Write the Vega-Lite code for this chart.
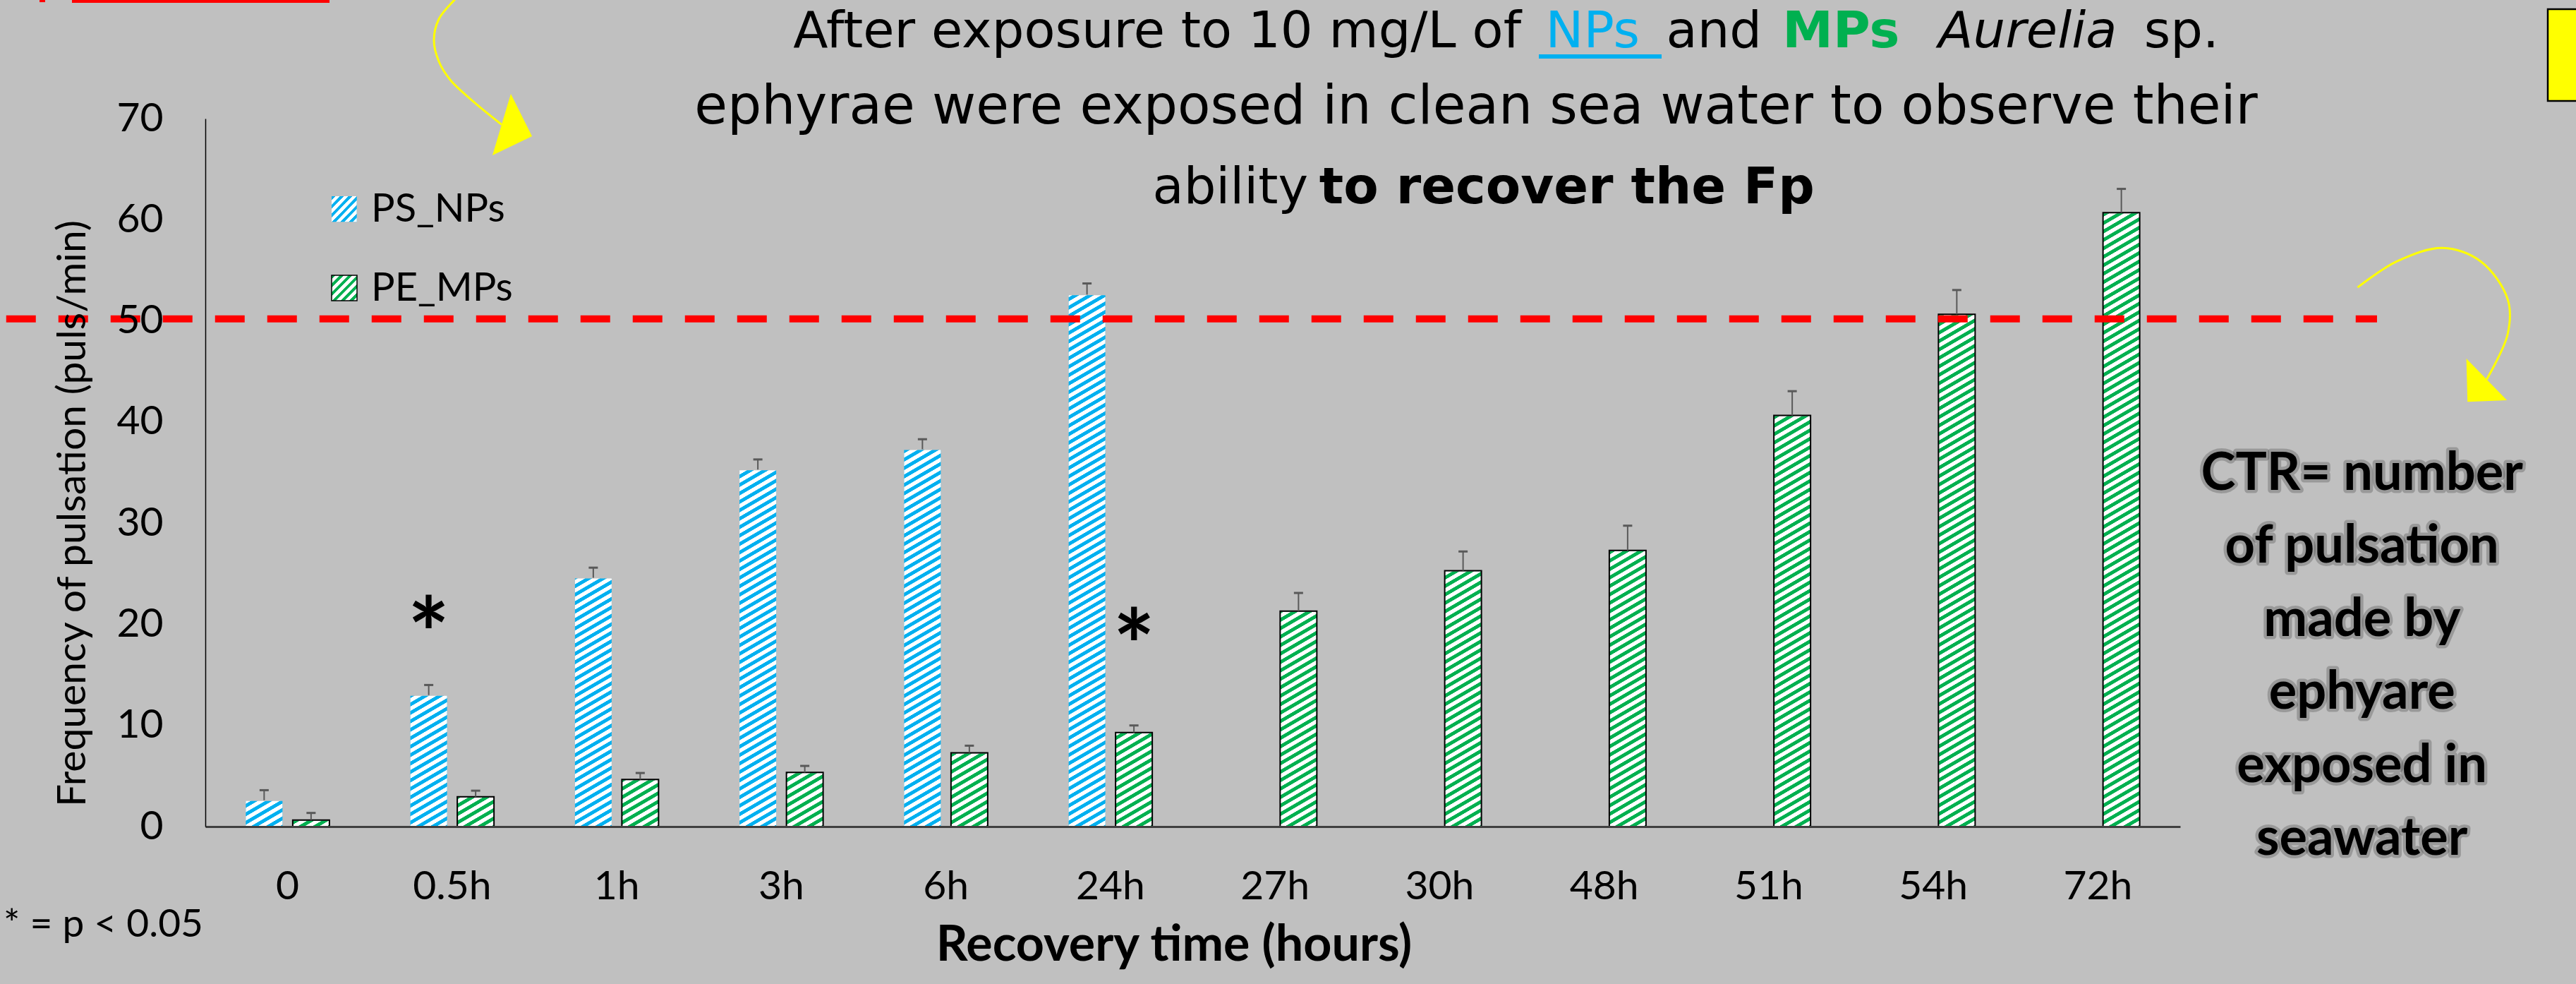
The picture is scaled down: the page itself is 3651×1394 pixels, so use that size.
{
"$schema": "https://vega.github.io/schema/vega-lite/v6.json",
"width": 2799,
"height": 1003,
"autosize": "none",
"padding": {"left": 291, "top": 168, "right": 561, "bottom": 223},
"background": "#C0C0C0",
"config": {"view": {"stroke": null}, "font": "Lato", "axis": {"grid": false}},
"datasets": {
 "bars": [
  {"time": "0", "series": "PS_NPs", "value": 2.6, "hi": 3.6},
  {"time": "0.5h", "series": "PS_NPs", "value": 13.0, "hi": 14.0},
  {"time": "1h", "series": "PS_NPs", "value": 24.6, "hi": 25.6},
  {"time": "3h", "series": "PS_NPs", "value": 35.3, "hi": 36.3},
  {"time": "6h", "series": "PS_NPs", "value": 37.3, "hi": 38.3},
  {"time": "24h", "series": "PS_NPs", "value": 52.6, "hi": 53.7},
  {"time": "0", "series": "PE_MPs", "value": 0.65, "hi": 1.35},
  {"time": "0.5h", "series": "PE_MPs", "value": 2.95, "hi": 3.55},
  {"time": "1h", "series": "PE_MPs", "value": 4.65, "hi": 5.3},
  {"time": "3h", "series": "PE_MPs", "value": 5.35, "hi": 6.0},
  {"time": "6h", "series": "PE_MPs", "value": 7.3, "hi": 8.0},
  {"time": "24h", "series": "PE_MPs", "value": 9.3, "hi": 10.0},
  {"time": "27h", "series": "PE_MPs", "value": 21.3, "hi": 23.1},
  {"time": "30h", "series": "PE_MPs", "value": 25.3, "hi": 27.2},
  {"time": "48h", "series": "PE_MPs", "value": 27.3, "hi": 29.75},
  {"time": "51h", "series": "PE_MPs", "value": 40.65, "hi": 43.05},
  {"time": "54h", "series": "PE_MPs", "value": 50.65, "hi": 53.05},
  {"time": "72h", "series": "PE_MPs", "value": 60.7, "hi": 63.05}
 ],
 "arrows": [
  {"arrow": 1, "i": 0, "u": 1.582, "v": 82.91},
  {"arrow": 1, "i": 1, "u": 1.5134, "v": 81.73},
  {"arrow": 1, "i": 2, "u": 1.4191, "v": 79.84},
  {"arrow": 1, "i": 3, "u": 1.3891, "v": 77.75},
  {"arrow": 1, "i": 4, "u": 1.4191, "v": 75.65},
  {"arrow": 1, "i": 5, "u": 1.4877, "v": 73.84},
  {"arrow": 1, "i": 6, "u": 1.6249, "v": 71.74},
  {"arrow": 1, "i": 7, "u": 1.8006, "v": 69.41},
  {"arrow": 2, "i": 0, "u": 13.0783, "v": 53.31},
  {"arrow": 2, "i": 1, "u": 13.3153, "v": 55.87},
  {"arrow": 2, "i": 2, "u": 13.5949, "v": 57.21},
  {"arrow": 2, "i": 3, "u": 13.8272, "v": 55.87},
  {"arrow": 2, "i": 4, "u": 13.9901, "v": 52.13},
  {"arrow": 2, "i": 5, "u": 13.9901, "v": 48.70},
  {"arrow": 2, "i": 6, "u": 13.8624, "v": 44.21}
 ]
},
"layer": [
 {
  "data": {"name": "bars"},
  "encoding": {
   "x": {"field": "time", "type": "nominal",
    "sort": ["0", "0.5h", "1h", "3h", "6h", "24h", "27h", "30h", "48h", "51h", "54h", "72h"],
    "scale": {"paddingInner": 0.49196, "paddingOuter": 0.24598},
    "axis": {"title": "Recovery time (hours)", "labelAngle": 0, "labelFontSize": 57, "labelColor": "#000", "labelPadding": 102, "labelBaseline": "alphabetic", "ticks": false, "tickSize": 0, "domainColor": "#404040", "domainWidth": 3, "titleFontSize": 70, "titleFontWeight": "bold", "titleColor": "#000", "titleX": 1372.5, "titleY": 189, "titleBaseline": "alphabetic", "titleAlign": "center", "zindex": 1}},
   "xOffset": {"field": "series", "type": "nominal", "scale": {"domain": ["PS_NPs", "PE_MPs"], "paddingInner": 0.218, "paddingOuter": 0}}
  },
  "layer": [
   {"mark": {"type": "bar"},
    "encoding": {
     "y": {"datum": 64, "type": "quantitative", "scale": {"domain": [0, 70], "nice": false, "zero": true},
      "axis": {"title": "Frequency of pulsation (puls/min)", "values": [0, 10, 20, 30, 40, 50, 60, 70], "ticks": false, "tickSize": 0, "labelFontSize": 57, "labelColor": "#000", "labelPadding": 60, "domainColor": "#000", "domainWidth": 1.5, "titleFontSize": 57, "titleFontWeight": "normal", "titleColor": "#000", "titleAngle": -90, "titleX": -171, "titleY": 559, "titleBaseline": "alphabetic", "titleAlign": "center", "zindex": 1}},
     "y2": {"datum": 0},
     "fill": {"field": "series", "type": "nominal", "scale": {"domain": ["PS_NPs", "PE_MPs"], "range": ["#00B0F0", "#00B050"]}, "legend": null}
    }},
   {"mark": {"type": "bar", "fill": {"gradient": "linear", "x1": 0, "y1": 0, "x2": 0.034277, "y2": 1.04218, "stops": [
{"offset":0,"color":"rgba(255,255,255,0)"},{"offset":0.0055,"color":"rgba(255,255,255,0)"},{"offset":0.006,"color":"#fff"},{"offset":0.012,"color":"#fff"},
{"offset":0.0125,"color":"rgba(255,255,255,0)"},{"offset":0.018,"color":"rgba(255,255,255,0)"},{"offset":0.0185,"color":"#fff"},{"offset":0.0245,"color":"#fff"},
{"offset":0.025,"color":"rgba(255,255,255,0)"},{"offset":0.0305,"color":"rgba(255,255,255,0)"},{"offset":0.031,"color":"#fff"},{"offset":0.037,"color":"#fff"},
{"offset":0.0375,"color":"rgba(255,255,255,0)"},{"offset":0.043,"color":"rgba(255,255,255,0)"},{"offset":0.0435,"color":"#fff"},{"offset":0.0495,"color":"#fff"},
{"offset":0.05,"color":"rgba(255,255,255,0)"},{"offset":0.0555,"color":"rgba(255,255,255,0)"},{"offset":0.056,"color":"#fff"},{"offset":0.062,"color":"#fff"},
{"offset":0.0625,"color":"rgba(255,255,255,0)"},{"offset":0.068,"color":"rgba(255,255,255,0)"},{"offset":0.0685,"color":"#fff"},{"offset":0.0745,"color":"#fff"},
{"offset":0.075,"color":"rgba(255,255,255,0)"},{"offset":0.0805,"color":"rgba(255,255,255,0)"},{"offset":0.081,"color":"#fff"},{"offset":0.087,"color":"#fff"},
{"offset":0.0875,"color":"rgba(255,255,255,0)"},{"offset":0.093,"color":"rgba(255,255,255,0)"},{"offset":0.0935,"color":"#fff"},{"offset":0.0995,"color":"#fff"},
{"offset":0.1,"color":"rgba(255,255,255,0)"},{"offset":0.1055,"color":"rgba(255,255,255,0)"},{"offset":0.106,"color":"#fff"},{"offset":0.112,"color":"#fff"},
{"offset":0.1125,"color":"rgba(255,255,255,0)"},{"offset":0.118,"color":"rgba(255,255,255,0)"},{"offset":0.1185,"color":"#fff"},{"offset":0.1245,"color":"#fff"},
{"offset":0.125,"color":"rgba(255,255,255,0)"},{"offset":0.1305,"color":"rgba(255,255,255,0)"},{"offset":0.131,"color":"#fff"},{"offset":0.137,"color":"#fff"},
{"offset":0.1375,"color":"rgba(255,255,255,0)"},{"offset":0.143,"color":"rgba(255,255,255,0)"},{"offset":0.1435,"color":"#fff"},{"offset":0.1495,"color":"#fff"},
{"offset":0.15,"color":"rgba(255,255,255,0)"},{"offset":0.1555,"color":"rgba(255,255,255,0)"},{"offset":0.156,"color":"#fff"},{"offset":0.162,"color":"#fff"},
{"offset":0.1625,"color":"rgba(255,255,255,0)"},{"offset":0.168,"color":"rgba(255,255,255,0)"},{"offset":0.1685,"color":"#fff"},{"offset":0.1745,"color":"#fff"},
{"offset":0.175,"color":"rgba(255,255,255,0)"},{"offset":0.1805,"color":"rgba(255,255,255,0)"},{"offset":0.181,"color":"#fff"},{"offset":0.187,"color":"#fff"},
{"offset":0.1875,"color":"rgba(255,255,255,0)"},{"offset":0.193,"color":"rgba(255,255,255,0)"},{"offset":0.1935,"color":"#fff"},{"offset":0.1995,"color":"#fff"},
{"offset":0.2,"color":"rgba(255,255,255,0)"},{"offset":0.2055,"color":"rgba(255,255,255,0)"},{"offset":0.206,"color":"#fff"},{"offset":0.212,"color":"#fff"},
{"offset":0.2125,"color":"rgba(255,255,255,0)"},{"offset":0.218,"color":"rgba(255,255,255,0)"},{"offset":0.2185,"color":"#fff"},{"offset":0.2245,"color":"#fff"},
{"offset":0.225,"color":"rgba(255,255,255,0)"},{"offset":0.2305,"color":"rgba(255,255,255,0)"},{"offset":0.231,"color":"#fff"},{"offset":0.237,"color":"#fff"},
{"offset":0.2375,"color":"rgba(255,255,255,0)"},{"offset":0.243,"color":"rgba(255,255,255,0)"},{"offset":0.2435,"color":"#fff"},{"offset":0.2495,"color":"#fff"},
{"offset":0.25,"color":"rgba(255,255,255,0)"},{"offset":0.2555,"color":"rgba(255,255,255,0)"},{"offset":0.256,"color":"#fff"},{"offset":0.262,"color":"#fff"},
{"offset":0.2625,"color":"rgba(255,255,255,0)"},{"offset":0.268,"color":"rgba(255,255,255,0)"},{"offset":0.2685,"color":"#fff"},{"offset":0.2745,"color":"#fff"},
{"offset":0.275,"color":"rgba(255,255,255,0)"},{"offset":0.2805,"color":"rgba(255,255,255,0)"},{"offset":0.281,"color":"#fff"},{"offset":0.287,"color":"#fff"},
{"offset":0.2875,"color":"rgba(255,255,255,0)"},{"offset":0.293,"color":"rgba(255,255,255,0)"},{"offset":0.2935,"color":"#fff"},{"offset":0.2995,"color":"#fff"},
{"offset":0.3,"color":"rgba(255,255,255,0)"},{"offset":0.3055,"color":"rgba(255,255,255,0)"},{"offset":0.306,"color":"#fff"},{"offset":0.312,"color":"#fff"},
{"offset":0.3125,"color":"rgba(255,255,255,0)"},{"offset":0.318,"color":"rgba(255,255,255,0)"},{"offset":0.3185,"color":"#fff"},{"offset":0.3245,"color":"#fff"},
{"offset":0.325,"color":"rgba(255,255,255,0)"},{"offset":0.3305,"color":"rgba(255,255,255,0)"},{"offset":0.331,"color":"#fff"},{"offset":0.337,"color":"#fff"},
{"offset":0.3375,"color":"rgba(255,255,255,0)"},{"offset":0.343,"color":"rgba(255,255,255,0)"},{"offset":0.3435,"color":"#fff"},{"offset":0.3495,"color":"#fff"},
{"offset":0.35,"color":"rgba(255,255,255,0)"},{"offset":0.3555,"color":"rgba(255,255,255,0)"},{"offset":0.356,"color":"#fff"},{"offset":0.362,"color":"#fff"},
{"offset":0.3625,"color":"rgba(255,255,255,0)"},{"offset":0.368,"color":"rgba(255,255,255,0)"},{"offset":0.3685,"color":"#fff"},{"offset":0.3745,"color":"#fff"},
{"offset":0.375,"color":"rgba(255,255,255,0)"},{"offset":0.3805,"color":"rgba(255,255,255,0)"},{"offset":0.381,"color":"#fff"},{"offset":0.387,"color":"#fff"},
{"offset":0.3875,"color":"rgba(255,255,255,0)"},{"offset":0.393,"color":"rgba(255,255,255,0)"},{"offset":0.3935,"color":"#fff"},{"offset":0.3995,"color":"#fff"},
{"offset":0.4,"color":"rgba(255,255,255,0)"},{"offset":0.4055,"color":"rgba(255,255,255,0)"},{"offset":0.406,"color":"#fff"},{"offset":0.412,"color":"#fff"},
{"offset":0.4125,"color":"rgba(255,255,255,0)"},{"offset":0.418,"color":"rgba(255,255,255,0)"},{"offset":0.4185,"color":"#fff"},{"offset":0.4245,"color":"#fff"},
{"offset":0.425,"color":"rgba(255,255,255,0)"},{"offset":0.4305,"color":"rgba(255,255,255,0)"},{"offset":0.431,"color":"#fff"},{"offset":0.437,"color":"#fff"},
{"offset":0.4375,"color":"rgba(255,255,255,0)"},{"offset":0.443,"color":"rgba(255,255,255,0)"},{"offset":0.4435,"color":"#fff"},{"offset":0.4495,"color":"#fff"},
{"offset":0.45,"color":"rgba(255,255,255,0)"},{"offset":0.4555,"color":"rgba(255,255,255,0)"},{"offset":0.456,"color":"#fff"},{"offset":0.462,"color":"#fff"},
{"offset":0.4625,"color":"rgba(255,255,255,0)"},{"offset":0.468,"color":"rgba(255,255,255,0)"},{"offset":0.4685,"color":"#fff"},{"offset":0.4745,"color":"#fff"},
{"offset":0.475,"color":"rgba(255,255,255,0)"},{"offset":0.4805,"color":"rgba(255,255,255,0)"},{"offset":0.481,"color":"#fff"},{"offset":0.487,"color":"#fff"},
{"offset":0.4875,"color":"rgba(255,255,255,0)"},{"offset":0.493,"color":"rgba(255,255,255,0)"},{"offset":0.4935,"color":"#fff"},{"offset":0.4995,"color":"#fff"},
{"offset":0.5,"color":"rgba(255,255,255,0)"},{"offset":0.5055,"color":"rgba(255,255,255,0)"},{"offset":0.506,"color":"#fff"},{"offset":0.512,"color":"#fff"},
{"offset":0.5125,"color":"rgba(255,255,255,0)"},{"offset":0.518,"color":"rgba(255,255,255,0)"},{"offset":0.5185,"color":"#fff"},{"offset":0.5245,"color":"#fff"},
{"offset":0.525,"color":"rgba(255,255,255,0)"},{"offset":0.5305,"color":"rgba(255,255,255,0)"},{"offset":0.531,"color":"#fff"},{"offset":0.537,"color":"#fff"},
{"offset":0.5375,"color":"rgba(255,255,255,0)"},{"offset":0.543,"color":"rgba(255,255,255,0)"},{"offset":0.5435,"color":"#fff"},{"offset":0.5495,"color":"#fff"},
{"offset":0.55,"color":"rgba(255,255,255,0)"},{"offset":0.5555,"color":"rgba(255,255,255,0)"},{"offset":0.556,"color":"#fff"},{"offset":0.562,"color":"#fff"},
{"offset":0.5625,"color":"rgba(255,255,255,0)"},{"offset":0.568,"color":"rgba(255,255,255,0)"},{"offset":0.5685,"color":"#fff"},{"offset":0.5745,"color":"#fff"},
{"offset":0.575,"color":"rgba(255,255,255,0)"},{"offset":0.5805,"color":"rgba(255,255,255,0)"},{"offset":0.581,"color":"#fff"},{"offset":0.587,"color":"#fff"},
{"offset":0.5875,"color":"rgba(255,255,255,0)"},{"offset":0.593,"color":"rgba(255,255,255,0)"},{"offset":0.5935,"color":"#fff"},{"offset":0.5995,"color":"#fff"},
{"offset":0.6,"color":"rgba(255,255,255,0)"},{"offset":0.6055,"color":"rgba(255,255,255,0)"},{"offset":0.606,"color":"#fff"},{"offset":0.612,"color":"#fff"},
{"offset":0.6125,"color":"rgba(255,255,255,0)"},{"offset":0.618,"color":"rgba(255,255,255,0)"},{"offset":0.6185,"color":"#fff"},{"offset":0.6245,"color":"#fff"},
{"offset":0.625,"color":"rgba(255,255,255,0)"},{"offset":0.6305,"color":"rgba(255,255,255,0)"},{"offset":0.631,"color":"#fff"},{"offset":0.637,"color":"#fff"},
{"offset":0.6375,"color":"rgba(255,255,255,0)"},{"offset":0.643,"color":"rgba(255,255,255,0)"},{"offset":0.6435,"color":"#fff"},{"offset":0.6495,"color":"#fff"},
{"offset":0.65,"color":"rgba(255,255,255,0)"},{"offset":0.6555,"color":"rgba(255,255,255,0)"},{"offset":0.656,"color":"#fff"},{"offset":0.662,"color":"#fff"},
{"offset":0.6625,"color":"rgba(255,255,255,0)"},{"offset":0.668,"color":"rgba(255,255,255,0)"},{"offset":0.6685,"color":"#fff"},{"offset":0.6745,"color":"#fff"},
{"offset":0.675,"color":"rgba(255,255,255,0)"},{"offset":0.6805,"color":"rgba(255,255,255,0)"},{"offset":0.681,"color":"#fff"},{"offset":0.687,"color":"#fff"},
{"offset":0.6875,"color":"rgba(255,255,255,0)"},{"offset":0.693,"color":"rgba(255,255,255,0)"},{"offset":0.6935,"color":"#fff"},{"offset":0.6995,"color":"#fff"},
{"offset":0.7,"color":"rgba(255,255,255,0)"},{"offset":0.7055,"color":"rgba(255,255,255,0)"},{"offset":0.706,"color":"#fff"},{"offset":0.712,"color":"#fff"},
{"offset":0.7125,"color":"rgba(255,255,255,0)"},{"offset":0.718,"color":"rgba(255,255,255,0)"},{"offset":0.7185,"color":"#fff"},{"offset":0.7245,"color":"#fff"},
{"offset":0.725,"color":"rgba(255,255,255,0)"},{"offset":0.7305,"color":"rgba(255,255,255,0)"},{"offset":0.731,"color":"#fff"},{"offset":0.737,"color":"#fff"},
{"offset":0.7375,"color":"rgba(255,255,255,0)"},{"offset":0.743,"color":"rgba(255,255,255,0)"},{"offset":0.7435,"color":"#fff"},{"offset":0.7495,"color":"#fff"},
{"offset":0.75,"color":"rgba(255,255,255,0)"},{"offset":0.7555,"color":"rgba(255,255,255,0)"},{"offset":0.756,"color":"#fff"},{"offset":0.762,"color":"#fff"},
{"offset":0.7625,"color":"rgba(255,255,255,0)"},{"offset":0.768,"color":"rgba(255,255,255,0)"},{"offset":0.7685,"color":"#fff"},{"offset":0.7745,"color":"#fff"},
{"offset":0.775,"color":"rgba(255,255,255,0)"},{"offset":0.7805,"color":"rgba(255,255,255,0)"},{"offset":0.781,"color":"#fff"},{"offset":0.787,"color":"#fff"},
{"offset":0.7875,"color":"rgba(255,255,255,0)"},{"offset":0.793,"color":"rgba(255,255,255,0)"},{"offset":0.7935,"color":"#fff"},{"offset":0.7995,"color":"#fff"},
{"offset":0.8,"color":"rgba(255,255,255,0)"},{"offset":0.8055,"color":"rgba(255,255,255,0)"},{"offset":0.806,"color":"#fff"},{"offset":0.812,"color":"#fff"},
{"offset":0.8125,"color":"rgba(255,255,255,0)"},{"offset":0.818,"color":"rgba(255,255,255,0)"},{"offset":0.8185,"color":"#fff"},{"offset":0.8245,"color":"#fff"},
{"offset":0.825,"color":"rgba(255,255,255,0)"},{"offset":0.8305,"color":"rgba(255,255,255,0)"},{"offset":0.831,"color":"#fff"},{"offset":0.837,"color":"#fff"},
{"offset":0.8375,"color":"rgba(255,255,255,0)"},{"offset":0.843,"color":"rgba(255,255,255,0)"},{"offset":0.8435,"color":"#fff"},{"offset":0.8495,"color":"#fff"},
{"offset":0.85,"color":"rgba(255,255,255,0)"},{"offset":0.8555,"color":"rgba(255,255,255,0)"},{"offset":0.856,"color":"#fff"},{"offset":0.862,"color":"#fff"},
{"offset":0.8625,"color":"rgba(255,255,255,0)"},{"offset":0.868,"color":"rgba(255,255,255,0)"},{"offset":0.8685,"color":"#fff"},{"offset":0.8745,"color":"#fff"},
{"offset":0.875,"color":"rgba(255,255,255,0)"},{"offset":0.8805,"color":"rgba(255,255,255,0)"},{"offset":0.881,"color":"#fff"},{"offset":0.887,"color":"#fff"},
{"offset":0.8875,"color":"rgba(255,255,255,0)"},{"offset":0.893,"color":"rgba(255,255,255,0)"},{"offset":0.8935,"color":"#fff"},{"offset":0.8995,"color":"#fff"},
{"offset":0.9,"color":"rgba(255,255,255,0)"},{"offset":0.9055,"color":"rgba(255,255,255,0)"},{"offset":0.906,"color":"#fff"},{"offset":0.912,"color":"#fff"},
{"offset":0.9125,"color":"rgba(255,255,255,0)"},{"offset":0.918,"color":"rgba(255,255,255,0)"},{"offset":0.9185,"color":"#fff"},{"offset":0.9245,"color":"#fff"},
{"offset":0.925,"color":"rgba(255,255,255,0)"},{"offset":0.9305,"color":"rgba(255,255,255,0)"},{"offset":0.931,"color":"#fff"},{"offset":0.937,"color":"#fff"},
{"offset":0.9375,"color":"rgba(255,255,255,0)"},{"offset":0.943,"color":"rgba(255,255,255,0)"},{"offset":0.9435,"color":"#fff"},{"offset":0.9495,"color":"#fff"},
{"offset":0.95,"color":"rgba(255,255,255,0)"},{"offset":0.9555,"color":"rgba(255,255,255,0)"},{"offset":0.956,"color":"#fff"},{"offset":0.962,"color":"#fff"},
{"offset":0.9625,"color":"rgba(255,255,255,0)"},{"offset":0.968,"color":"rgba(255,255,255,0)"},{"offset":0.9685,"color":"#fff"},{"offset":0.9745,"color":"#fff"},
{"offset":0.975,"color":"rgba(255,255,255,0)"},{"offset":0.9805,"color":"rgba(255,255,255,0)"},{"offset":0.981,"color":"#fff"},{"offset":0.987,"color":"#fff"},
{"offset":0.9875,"color":"rgba(255,255,255,0)"},{"offset":0.993,"color":"rgba(255,255,255,0)"},{"offset":0.9935,"color":"#fff"},{"offset":0.9995,"color":"#fff"}
]}},
    "encoding": {"y": {"datum": 64, "type": "quantitative"}, "y2": {"datum": 0}}},
   {"mark": {"type": "bar", "fill": "#C0C0C0", "stroke": "#C0C0C0", "strokeWidth": 2},
    "encoding": {"y": {"field": "value", "type": "quantitative"}, "y2": {"datum": 64}}},
   {"transform": [{"filter": "datum.series === 'PE_MPs'"}],
    "mark": {"type": "bar", "fillOpacity": 0, "stroke": "#000", "strokeWidth": 2},
    "encoding": {"y": {"field": "value", "type": "quantitative"}, "y2": {"datum": 0}}},
   {"mark": {"type": "rule", "color": "#595959", "strokeWidth": 2},
    "encoding": {"y": {"field": "value", "type": "quantitative"}, "y2": {"field": "hi"}}},
   {"mark": {"type": "tick", "color": "#595959", "thickness": 3, "size": 13, "opacity": 1},
    "encoding": {"y": {"field": "hi", "type": "quantitative"}}}
  ]
 },
 {
  "data": {"values": [{}]},
  "layer": [
   {"mark": {"type": "rule", "color": "#FF0000", "strokeWidth": 10, "strokeDash": [42, 32]},
    "encoding": {"x": {"datum": -1.21, "type": "quantitative", "scale": {"domain": [0, 12], "nice": false, "zero": false}, "axis": null}, "x2": {"datum": 13.196}, "y": {"datum": 50.2, "type": "quantitative"}}},
   {"mark": {"type": "text", "text": "*", "fontSize": 140, "fontWeight": "bold", "align": "center", "baseline": "alphabetic", "dy": 81, "color": "#000"},
    "encoding": {"x": {"datum": 1.3574, "type": "quantitative", "scale": {"domain": [0, 12], "nice": false, "zero": false}, "axis": null}, "y": {"datum": 21.15, "type": "quantitative"}}},
   {"mark": {"type": "text", "text": "*", "fontSize": 140, "fontWeight": "bold", "align": "center", "baseline": "alphabetic", "dy": 81, "color": "#000"},
    "encoding": {"x": {"datum": 5.6426, "type": "quantitative", "scale": {"domain": [0, 12], "nice": false, "zero": false}, "axis": null}, "y": {"datum": 19.96, "type": "quantitative"}}},
   {"mark": {"type": "text", "text": "* = p < 0.05", "fontSize": 55, "align": "left", "baseline": "alphabetic", "color": "#000"},
    "encoding": {"x": {"datum": -1.2262, "type": "quantitative", "scale": {"domain": [0, 12], "nice": false, "zero": false}, "axis": null}, "y": {"datum": -10.887, "type": "quantitative"}}},
   {"mark": {"type": "text", "text": "After exposure to 10 mg/L of", "font": "DejaVu Sans", "fontSize": 72, "align": "right", "baseline": "alphabetic", "color": "#000"},
    "encoding": {"x": {"datum": 7.9957, "type": "quantitative", "scale": {"domain": [0, 12], "nice": false, "zero": false}, "axis": null}, "y": {"datum": 77.05, "type": "quantitative"}}},
   {"mark": {"type": "text", "text": "NPs", "font": "DejaVu Sans", "fontSize": 72, "align": "center", "baseline": "alphabetic", "color": "#00B0F0"},
    "encoding": {"x": {"datum": 8.43, "type": "quantitative", "scale": {"domain": [0, 12], "nice": false, "zero": false}, "axis": null}, "y": {"datum": 77.05, "type": "quantitative"}}},
   {"mark": {"type": "rule", "color": "#00B0F0", "strokeWidth": 6},
    "encoding": {"x": {"datum": 8.1029, "type": "quantitative", "scale": {"domain": [0, 12], "nice": false, "zero": false}, "axis": null}, "x2": {"datum": 8.8489}, "y": {"datum": 76.14, "type": "quantitative"}}},
   {"mark": {"type": "text", "text": "and", "font": "DejaVu Sans", "fontSize": 72, "align": "center", "baseline": "alphabetic", "color": "#000"},
    "encoding": {"x": {"datum": 9.1676, "type": "quantitative", "scale": {"domain": [0, 12], "nice": false, "zero": false}, "axis": null}, "y": {"datum": 77.05, "type": "quantitative"}}},
   {"mark": {"type": "text", "text": "MPs", "font": "DejaVu Sans", "fontSize": 72, "fontWeight": "bold", "align": "center", "baseline": "alphabetic", "color": "#00B050"},
    "encoding": {"x": {"datum": 9.9389, "type": "quantitative", "scale": {"domain": [0, 12], "nice": false, "zero": false}, "axis": null}, "y": {"datum": 77.05, "type": "quantitative"}}},
   {"mark": {"type": "text", "text": "Aurelia", "font": "DejaVu Sans", "fontSize": 72, "fontStyle": "italic", "align": "center", "baseline": "alphabetic", "color": "#000"},
    "encoding": {"x": {"datum": 11.0731, "type": "quantitative", "scale": {"domain": [0, 12], "nice": false, "zero": false}, "axis": null}, "y": {"datum": 77.05, "type": "quantitative"}}},
   {"mark": {"type": "text", "text": "sp.", "font": "DejaVu Sans", "fontSize": 72, "align": "left", "baseline": "alphabetic", "color": "#000"},
    "encoding": {"x": {"datum": 11.7801, "type": "quantitative", "scale": {"domain": [0, 12], "nice": false, "zero": false}, "axis": null}, "y": {"datum": 77.05, "type": "quantitative"}}},
   {"mark": {"type": "text", "text": "ephyrae were exposed in clean sea water to observe their", "font": "DejaVu Sans", "fontSize": 76, "align": "center", "baseline": "alphabetic", "color": "#000"},
    "encoding": {"x": {"datum": 7.7213, "type": "quantitative", "scale": {"domain": [0, 12], "nice": false, "zero": false}, "axis": null}, "y": {"datum": 69.51, "type": "quantitative"}}},
   {"mark": {"type": "text", "text": "ability", "font": "DejaVu Sans", "fontSize": 72, "align": "center", "baseline": "alphabetic", "color": "#000"},
    "encoding": {"x": {"datum": 6.2288, "type": "quantitative", "scale": {"domain": [0, 12], "nice": false, "zero": false}, "axis": null}, "y": {"datum": 61.62, "type": "quantitative"}}},
   {"mark": {"type": "text", "text": "to recover the Fp", "font": "DejaVu Sans", "fontSize": 72, "fontWeight": "bold", "align": "center", "baseline": "alphabetic", "color": "#000"},
    "encoding": {"x": {"datum": 8.2735, "type": "quantitative", "scale": {"domain": [0, 12], "nice": false, "zero": false}, "axis": null}, "y": {"datum": 61.62, "type": "quantitative"}}},
   {"mark": {"type": "text", "text": ["CTR= number", "of pulsation", "made by", "ephyare", "exposed in", "seawater"], "fontSize": 74, "fontWeight": "bold", "align": "center", "baseline": "alphabetic", "lineHeight": 103.5, "color": "#000", "stroke": "#000", "strokeWidth": 9, "strokeOpacity": 0.2, "strokeJoin": "round"},
    "encoding": {"x": {"datum": 13.1048, "type": "quantitative", "scale": {"domain": [0, 12], "nice": false, "zero": false}, "axis": null}, "y": {"datum": 33.31, "type": "quantitative"}}},
   {"mark": {"type": "text", "text": "PS_NPs", "fontSize": 56, "align": "left", "baseline": "alphabetic", "color": "#000"},
    "encoding": {"x": {"datum": 1.0075, "type": "quantitative", "scale": {"domain": [0, 12], "nice": false, "zero": false}, "axis": null}, "y": {"datum": 59.81, "type": "quantitative"}}},
   {"mark": {"type": "text", "text": "PE_MPs", "fontSize": 56, "align": "left", "baseline": "alphabetic", "color": "#000"},
    "encoding": {"x": {"datum": 1.0075, "type": "quantitative", "scale": {"domain": [0, 12], "nice": false, "zero": false}, "axis": null}, "y": {"datum": 51.99, "type": "quantitative"}}},
   {"mark": {"type": "rect", "fill": "#00B0F0"},
    "encoding": {"x": {"datum": 0.7674, "type": "quantitative", "scale": {"domain": [0, 12], "nice": false, "zero": false}, "axis": null}, "x2": {"datum": 0.9203}, "y": {"datum": 62.32, "type": "quantitative"}, "y2": {"datum": 59.79}}},
   {"mark": {"type": "rect", "fill": "#00B050"},
    "encoding": {"x": {"datum": 0.7674, "type": "quantitative", "scale": {"domain": [0, 12], "nice": false, "zero": false}, "axis": null}, "x2": {"datum": 0.9218}, "y": {"datum": 54.51, "type": "quantitative"}, "y2": {"datum": 51.99}}},
   {"mark": {"type": "rect", "fill": {"gradient": "linear", "x1": 0, "y1": 0, "x2": 1.00833, "y2": 1.00833, "stops": [
{"offset":0,"color":"rgba(255,255,255,0)"},{"offset":0.075,"color":"rgba(255,255,255,0)"},{"offset":0.08,"color":"#fff"},{"offset":0.162,"color":"#fff"},
{"offset":0.1667,"color":"rgba(255,255,255,0)"},{"offset":0.2417,"color":"rgba(255,255,255,0)"},{"offset":0.2467,"color":"#fff"},{"offset":0.3287,"color":"#fff"},
{"offset":0.3333,"color":"rgba(255,255,255,0)"},{"offset":0.4083,"color":"rgba(255,255,255,0)"},{"offset":0.4133,"color":"#fff"},{"offset":0.4953,"color":"#fff"},
{"offset":0.5,"color":"rgba(255,255,255,0)"},{"offset":0.575,"color":"rgba(255,255,255,0)"},{"offset":0.58,"color":"#fff"},{"offset":0.662,"color":"#fff"},
{"offset":0.6667,"color":"rgba(255,255,255,0)"},{"offset":0.7417,"color":"rgba(255,255,255,0)"},{"offset":0.7467,"color":"#fff"},{"offset":0.8287,"color":"#fff"},
{"offset":0.8333,"color":"rgba(255,255,255,0)"},{"offset":0.9083,"color":"rgba(255,255,255,0)"},{"offset":0.9133,"color":"#fff"},{"offset":0.9953,"color":"#fff"}
]}},
    "encoding": {"x": {"datum": 0.7674, "type": "quantitative", "scale": {"domain": [0, 12], "nice": false, "zero": false}, "axis": null}, "x2": {"datum": 0.9203}, "y": {"datum": 62.32, "type": "quantitative"}, "y2": {"datum": 59.79}}},
   {"mark": {"type": "rect", "stroke": "#000", "strokeWidth": 1.5, "fill": {"gradient": "linear", "x1": 0, "y1": 0, "x2": 1.00833, "y2": 1.00833, "stops": [
{"offset":0,"color":"rgba(255,255,255,0)"},{"offset":0.075,"color":"rgba(255,255,255,0)"},{"offset":0.08,"color":"#fff"},{"offset":0.162,"color":"#fff"},
{"offset":0.1667,"color":"rgba(255,255,255,0)"},{"offset":0.2417,"color":"rgba(255,255,255,0)"},{"offset":0.2467,"color":"#fff"},{"offset":0.3287,"color":"#fff"},
{"offset":0.3333,"color":"rgba(255,255,255,0)"},{"offset":0.4083,"color":"rgba(255,255,255,0)"},{"offset":0.4133,"color":"#fff"},{"offset":0.4953,"color":"#fff"},
{"offset":0.5,"color":"rgba(255,255,255,0)"},{"offset":0.575,"color":"rgba(255,255,255,0)"},{"offset":0.58,"color":"#fff"},{"offset":0.662,"color":"#fff"},
{"offset":0.6667,"color":"rgba(255,255,255,0)"},{"offset":0.7417,"color":"rgba(255,255,255,0)"},{"offset":0.7467,"color":"#fff"},{"offset":0.8287,"color":"#fff"},
{"offset":0.8333,"color":"rgba(255,255,255,0)"},{"offset":0.9083,"color":"rgba(255,255,255,0)"},{"offset":0.9133,"color":"#fff"},{"offset":0.9953,"color":"#fff"}
]}},
    "encoding": {"x": {"datum": 0.7674, "type": "quantitative", "scale": {"domain": [0, 12], "nice": false, "zero": false}, "axis": null}, "x2": {"datum": 0.9218}, "y": {"datum": 54.51, "type": "quantitative"}, "y2": {"datum": 51.99}}},
   {"mark": {"type": "rect", "fill": "#FFFF00", "stroke": "#000", "strokeWidth": 2.5},
    "encoding": {"x": {"datum": 14.2337, "type": "quantitative", "scale": {"domain": [0, 12], "nice": false, "zero": false}, "axis": null}, "x2": {"datum": 14.6}, "y": {"datum": 80.82, "type": "quantitative"}, "y2": {"datum": 71.74}}},
   {"mark": {"type": "rect", "fill": "#FF0000"},
    "encoding": {"x": {"datum": -0.8103, "type": "quantitative", "scale": {"domain": [0, 12], "nice": false, "zero": false}, "axis": null}, "x2": {"datum": 0.7546}, "y": {"datum": 82.5, "type": "quantitative"}, "y2": {"datum": 81.44}}},
   {"mark": {"type": "rect", "fill": "#FF0000"},
    "encoding": {"x": {"datum": -1.0075, "type": "quantitative", "scale": {"domain": [0, 12], "nice": false, "zero": false}, "axis": null}, "x2": {"datum": -0.9732}, "y": {"datum": 82.5, "type": "quantitative"}, "y2": {"datum": 81.51}}},
   {"data": {"name": "arrows"},
    "mark": {"type": "line", "color": "#FFFF00", "strokeWidth": 3, "interpolate": "catmull-rom"},
    "encoding": {"x": {"field": "u", "type": "quantitative", "scale": {"domain": [0, 12], "nice": false, "zero": false}, "axis": null}, "y": {"field": "v", "type": "quantitative", "title": "Frequency of pulsation (puls/min)"}, "detail": {"field": "arrow", "type": "nominal"}, "order": {"field": "i", "type": "quantitative"}}},
   {"mark": {"type": "point", "shape": "M0.26,-0.87L0.86,0.33L-0.26,0.87Z", "size": 10000, "filled": true, "color": "#FFFF00", "opacity": 1, "strokeWidth": 0},
    "encoding": {"x": {"datum": 1.8006, "type": "quantitative", "scale": {"domain": [0, 12], "nice": false, "zero": false}, "axis": null}, "y": {"datum": 69.41, "type": "quantitative"}}},
   {"mark": {"type": "point", "shape": "M-0.576,-0.59L0.574,0.59L-0.544,0.634Z", "size": 10000, "filled": true, "color": "#FFFF00", "opacity": 1, "strokeWidth": 0},
    "encoding": {"x": {"datum": 13.8624, "type": "quantitative", "scale": {"domain": [0, 12], "nice": false, "zero": false}, "axis": null}, "y": {"datum": 44.21, "type": "quantitative"}}}
  ]
 }
],
"resolve": {"scale": {"x": "independent"}, "axis": {"x": "independent"}}
}
